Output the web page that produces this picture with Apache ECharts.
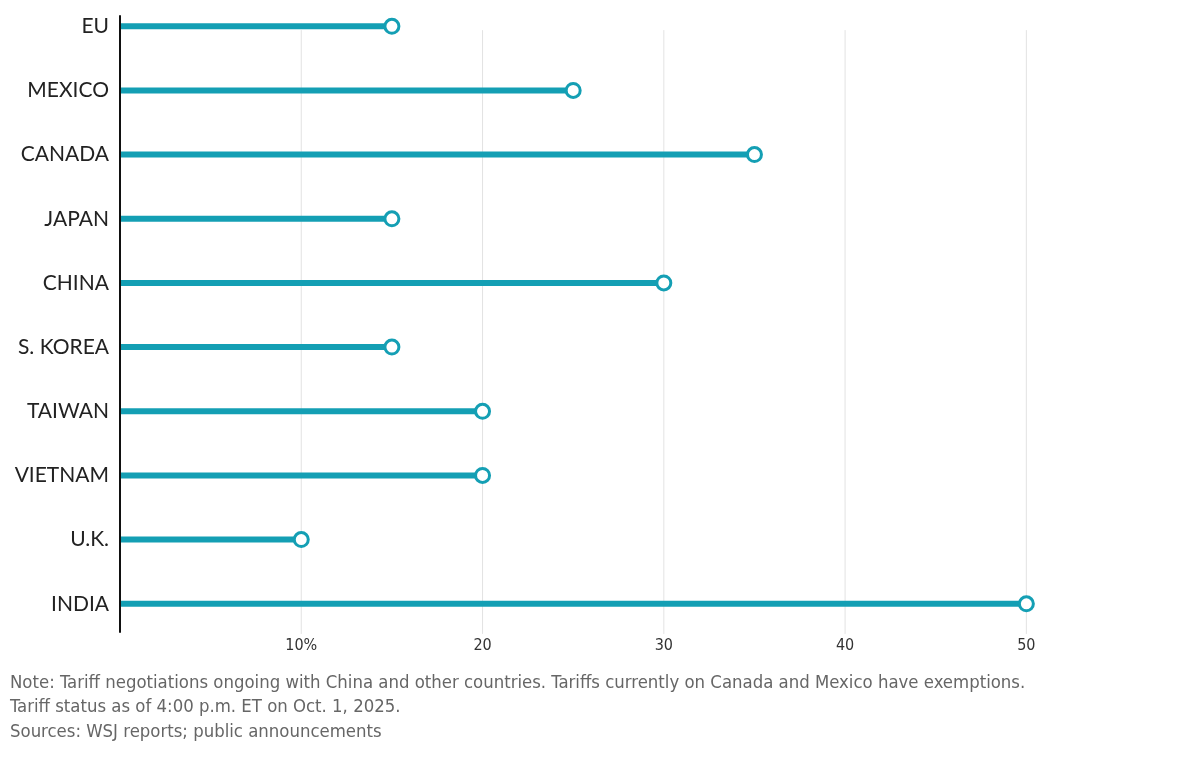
<!DOCTYPE html>
<html>
<head>
<meta charset="utf-8">
<script src="https://cdn.jsdelivr.net/npm/echarts@6/dist/echarts.min.js"></script>
<style>
html,body{margin:0;padding:0;background:#fff;}
#chart{width:1200px;height:760px;}
</style>
</head>
<body>
<div id="chart"></div>
<script>
const categories = ['EU', 'MEXICO', 'CANADA', 'JAPAN', 'CHINA', 'S. KOREA', 'TAIWAN', 'VIETNAM', 'U.K.', 'INDIA'];
const tariffs = [15, 25, 35, 15, 30, 15, 20, 20, 10, 50];
const xTicks = [10, 20, 30, 40, 50];
const xTickLabels = ['10%', '20', '30', '40', '50'];
const notes = [
  'Note: Tariff negotiations ongoing with China and other countries. Tariffs currently on Canada and Mexico have exemptions.',
  'Tariff status as of 4:00 p.m. ET on Oct. 1, 2025.',
  'Sources: WSJ reports; public announcements'
];

const teal = '#149fb4';
const rows = tariffs.map((v, i) => [v, i]);
const chart = echarts.init(document.getElementById('chart'));
chart.setOption({
  animation: false,
  backgroundColor: '#fff',
  grid: { left: 120, width: 997, top: 16, bottom: 128, containLabel: false, outerBoundsMode: 'none' },
  xAxis: {
    type: 'value', min: 0, max: 55,
    axisLine: { show: false }, axisTick: { show: false },
    splitLine: { show: false },
    axisLabel: {
      customValues: xTicks,
      formatter: v => xTickLabels[xTicks.indexOf(v)] || '',
      color: '#333', fontFamily: 'DejaVu Sans Condensed', fontSize: 16, margin: 6
    }
  },
  yAxis: {
    type: 'value', inverse: true, min: -0.16, max: 9.44,
    axisLine: { show: true, lineStyle: { color: '#111', width: 2 } },
    axisTick: { show: false },
    splitLine: { show: false },
    axisLabel: {
      customValues: categories.map((c, i) => i),
      formatter: v => categories[v] || '',
      color: '#222', fontFamily: 'Lato', fontSize: 21, margin: 11
    }
  },
  series: [
    {
      type: 'custom', silent: true, z: 1,
      renderItem: (params, api) => {
        const a = api.coord([api.value(0), 0.06]);
        const b = api.coord([api.value(0), 9.47]);
        return { type: 'line', shape: { x1: a[0], y1: a[1], x2: b[0], y2: b[1] },
                 style: { stroke: '#e3e3e3', lineWidth: 1 } };
      },
      encode: { x: 0 },
      data: xTicks.map(t => [t])
    },
    {
      type: 'custom',
      renderItem: (params, api) => {
        const a = api.coord([0, api.value(1)]);
        const b = api.coord([api.value(0), api.value(1)]);
        return { type: 'line', shape: { x1: a[0] + 1, y1: a[1], x2: b[0], y2: b[1] },
                 style: { stroke: teal, lineWidth: 6 } };
      },
      data: rows, z: 3
    },
    {
      type: 'scatter', data: rows, symbol: 'circle', symbolSize: 14,
      itemStyle: { color: '#fff', borderColor: teal, borderWidth: 3, opacity: 1 },
      z: 4
    }
  ],
  graphic: notes.map((t, i) => ({
    type: 'text', left: 10, top: 674 + i * 24.5,
    style: { text: t, fill: '#666', font: '18.4px "DejaVu Sans Condensed"' }
  }))
});
</script>
</body>
</html>
